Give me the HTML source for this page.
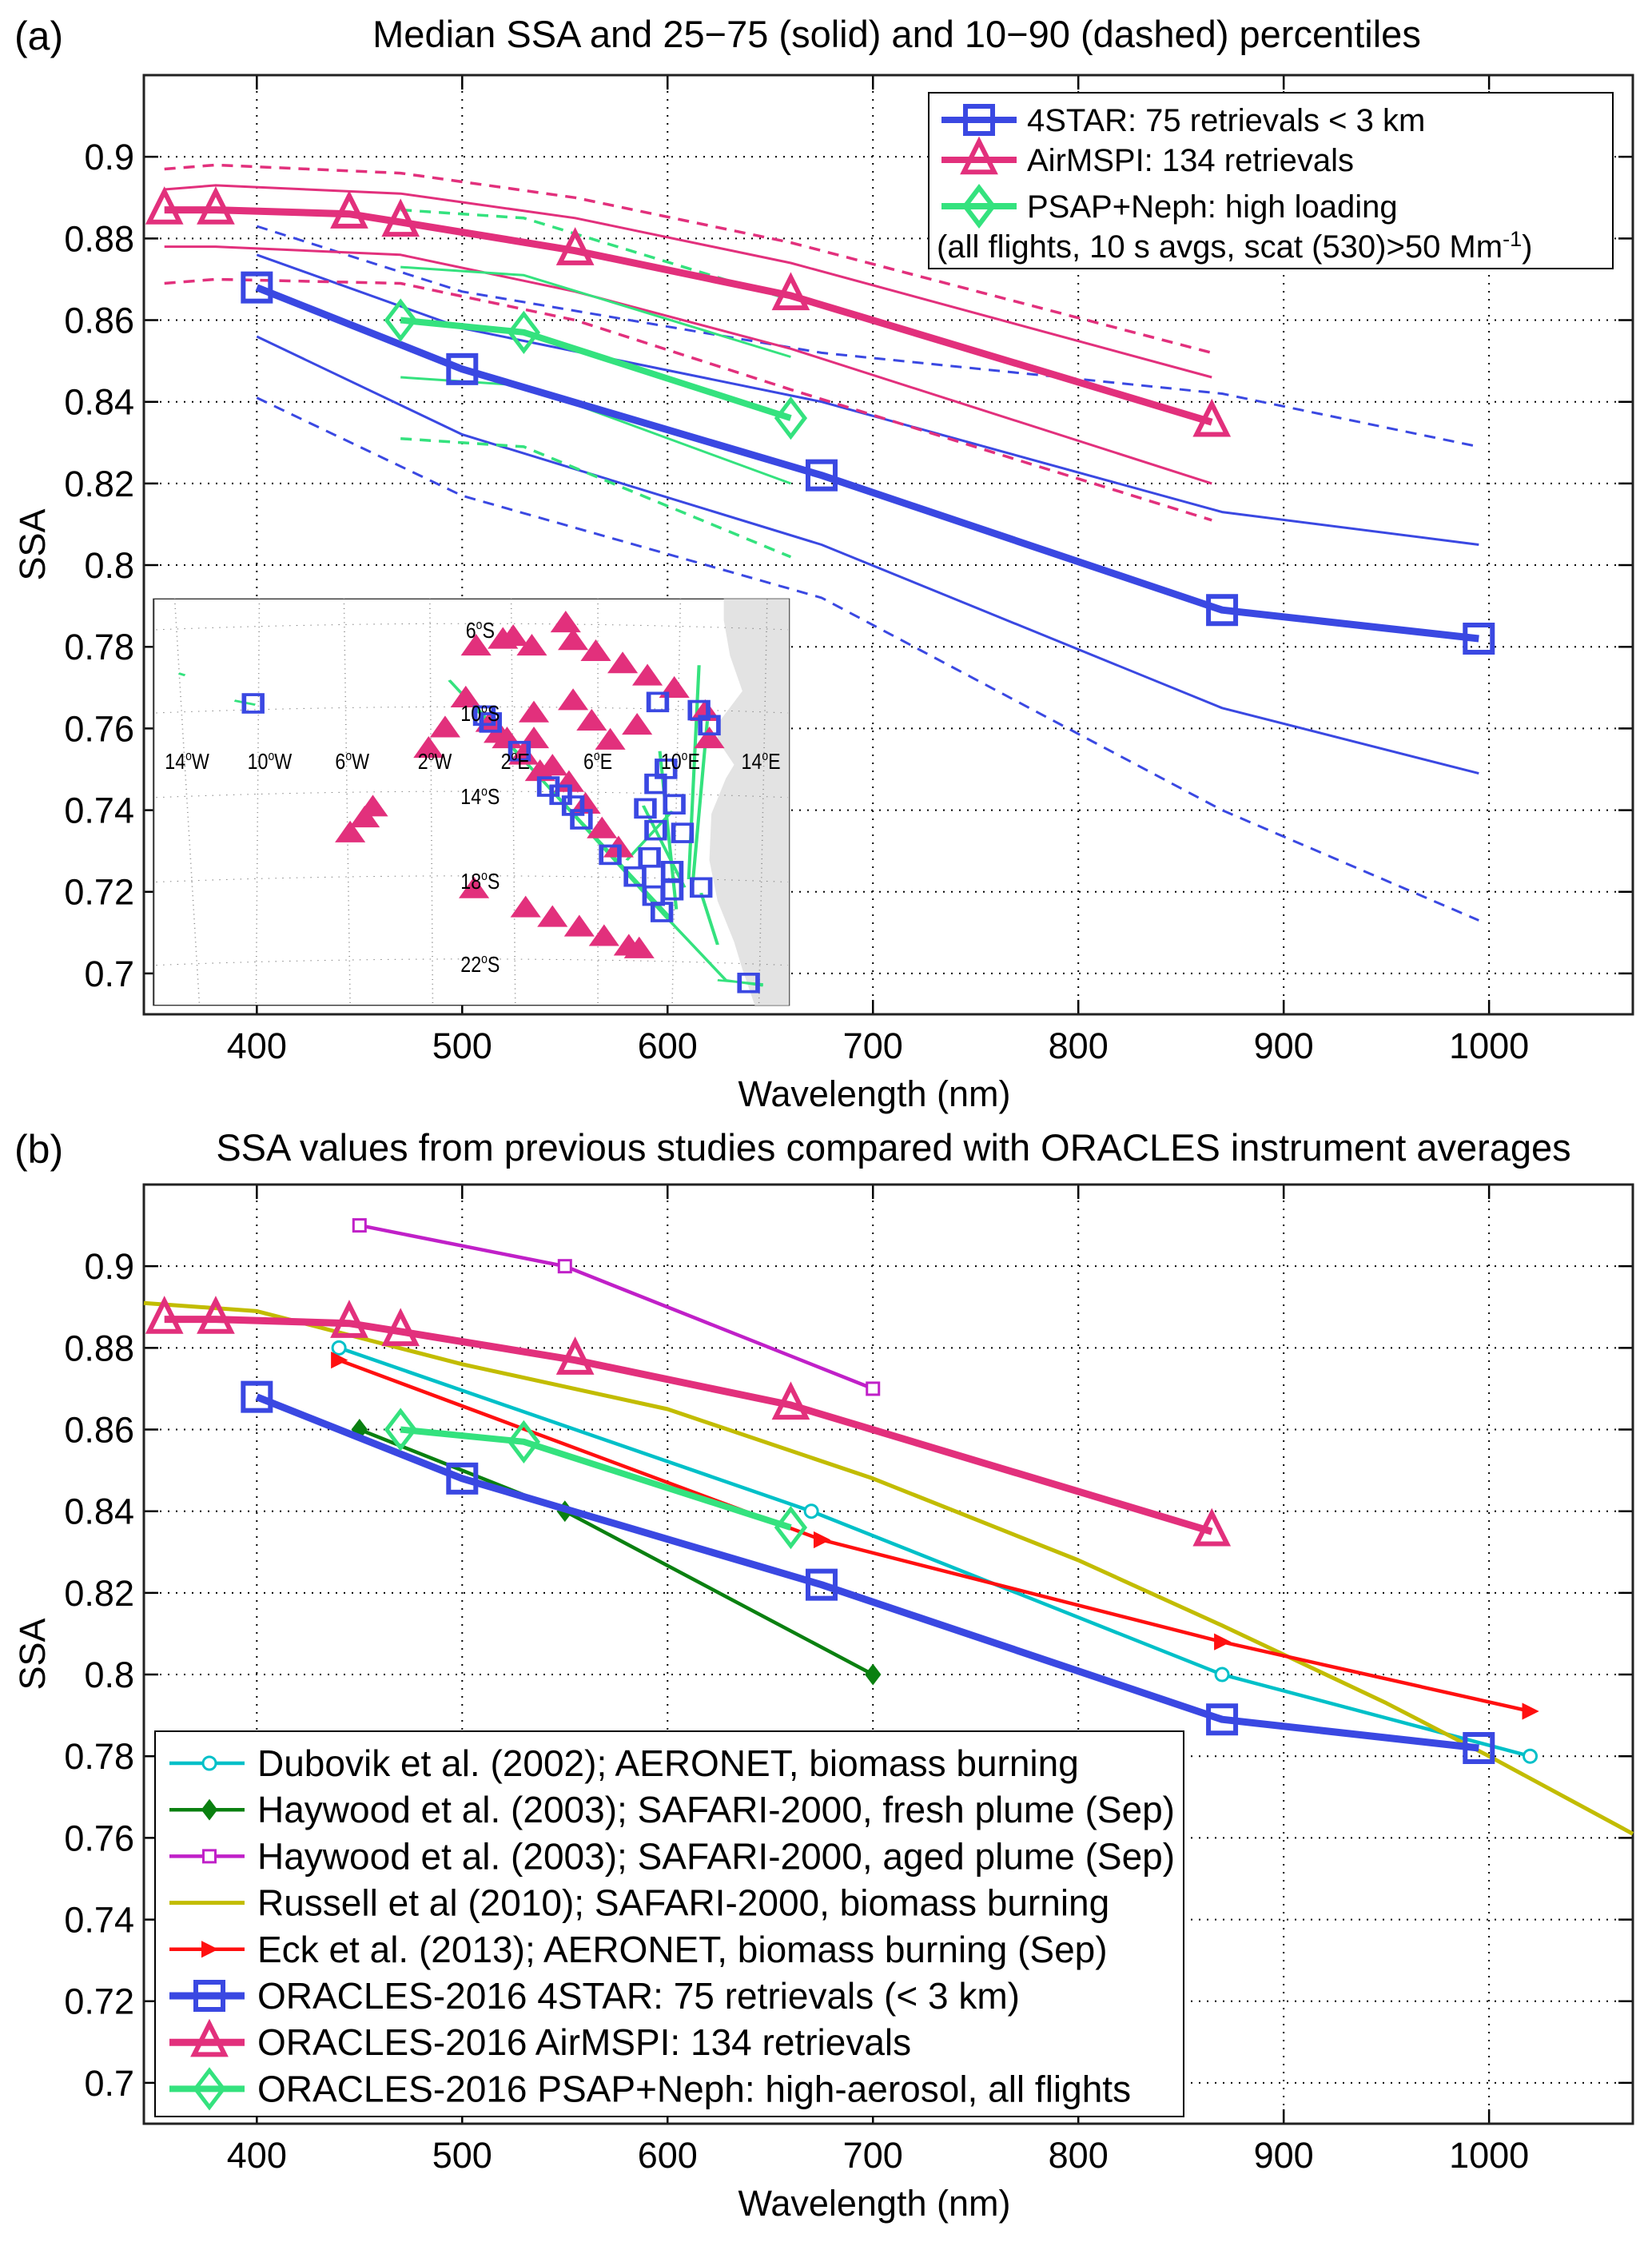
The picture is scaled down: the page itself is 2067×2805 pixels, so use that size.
<!DOCTYPE html>
<html><head><meta charset="utf-8">
<style>
html,body{margin:0;padding:0;background:#fff;}
svg{display:block;font-family:"Liberation Sans",Arial,sans-serif;}
</style></head>
<body>
<svg id="fig" width="2067" height="2805" viewBox="0 0 2067 2805" xmlns="http://www.w3.org/2000/svg">
<rect x="0" y="0" width="2067" height="2805" fill="#fff"/>
<text x="18" y="62" font-size="50">(a)</text>
<text x="1122" y="59" font-size="47" text-anchor="middle">Median SSA and 25−75 (solid) and 10−90 (dashed) percentiles</text>
<text x="18" y="1455" font-size="50">(b)</text>
<text x="1118" y="1452" font-size="47" text-anchor="middle">SSA values from previous studies compared with ORACLES instrument averages</text>
<g id="pa"></g>
<g id="inset"></g>
<g id="pb"></g>
</svg>
<script>
// ---- data ----
const xTicks=[400,500,600,700,800,900,1000];
const yTicks=[0.7,0.72,0.74,0.76,0.78,0.8,0.82,0.84,0.86,0.88,0.9];
const yTickLabels=["0.7","0.72","0.74","0.76","0.78","0.8","0.82","0.84","0.86","0.88","0.9"];
const starWl=[400,500,675,870,995];
const starMed=[0.868,0.848,0.822,0.789,0.782];
const starP75=[0.876,0.858,0.840,0.813,0.805];
const starP25=[0.856,0.832,0.805,0.765,0.749];
const starP90=[0.883,0.867,0.852,0.842,0.829];
const starP10=[0.841,0.817,0.792,0.740,0.713];
const mspiWl=[355,380,445,470,555,660,865];
const mspiMed=[0.887,0.887,0.886,0.884,0.877,0.866,0.835];
const mspiPWl=[355,380,470,555,660,865];
const mspiP75=[0.892,0.893,0.891,0.885,0.874,0.846];
const mspiP25=[0.878,0.878,0.876,0.867,0.853,0.820];
const mspiP90=[0.897,0.898,0.896,0.890,0.879,0.852];
const mspiP10=[0.869,0.870,0.869,0.860,0.843,0.811];
const psapWl=[470,530,660];
const psapMed=[0.860,0.857,0.836];
const psapP75=[0.873,0.871,0.851];
const psapP25=[0.846,0.844,0.820];
const psapP90=[0.887,0.885,0.865];
const psapP10=[0.831,0.829,0.802];
const dubWl=[440,670,870,1020];
const dubVal=[0.880,0.840,0.800,0.780];
const hayFWl=[450,550,700];
const hayFVal=[0.860,0.840,0.800];
const hayAWl=[450,550,700];
const hayAVal=[0.910,0.900,0.870];
const rusWl=[345,400,500,600,700,800,870,950,1000,1070];
const rusVal=[0.891,0.889,0.876,0.865,0.848,0.828,0.812,0.793,0.780,0.761];
const eckWl=[440,675,870,1020];
const eckVal=[0.877,0.833,0.808,0.791];

const NS="http://www.w3.org/2000/svg";
const BLUE="#3a48e2",PINK="#e2307c",GREEN="#34e27e";
function mk(tag,attrs,parent){const e=document.createElementNS(NS,tag);for(const k in attrs)e.setAttribute(k,attrs[k]);parent.appendChild(e);return e;}
const X0=180,X1=2043,XMIN=345,XMAX=1070,YMIN=0.69,YMAX=0.92;
function sx(v){return X0+(v-XMIN)/(XMAX-XMIN)*(X1-X0);}
function makeSy(top,bot){return v=>bot-(v-YMIN)/(YMAX-YMIN)*(bot-top);}

function axes(g,top,bot,sy){
  for(let i=0;i<xTicks.length;i++){const x=sx(xTicks[i]);
    const l=mk('line',{x1:x,y1:top,x2:x,y2:bot,stroke:'#000','stroke-width':2,'stroke-dasharray':'2 8'},g);
    
    mk('line',{x1:x,y1:bot,x2:x,y2:bot-18,stroke:'#000','stroke-width':2.5},g);
    mk('line',{x1:x,y1:top,x2:x,y2:top+18,stroke:'#000','stroke-width':2.5},g);
    const t=mk('text',{x:x,y:bot+55,'font-size':45,'text-anchor':'middle'},g);t.textContent=xTicks[i];
    }
  for(let i=0;i<yTicks.length;i++){const y=sy(yTicks[i]);
    const l=mk('line',{x1:X0,y1:y,x2:X1,y2:y,stroke:'#000','stroke-width':2,'stroke-dasharray':'2 8'},g);
    
    mk('line',{x1:X0,y1:y,x2:X0+18,y2:y,stroke:'#000','stroke-width':2.5},g);
    mk('line',{x1:X1,y1:y,x2:X1-18,y2:y,stroke:'#000','stroke-width':2.5},g);
    const t=mk('text',{x:168,y:y+16,'font-size':45,'text-anchor':'end'},g);t.textContent=yTickLabels[i];
    }
  const r=mk('rect',{x:X0,y:top,width:X1-X0,height:bot-top,fill:'none',stroke:'#222','stroke-width':3},g);
  
  const xl=mk('text',{x:1094,y:bot+115,'font-size':45,'text-anchor':'middle'},g);xl.textContent='Wavelength (nm)';
  
  const cy=(top+bot)/2;
  const yl=mk('text',{x:56,y:cy,'font-size':45,'text-anchor':'middle',transform:`rotate(-90 56 ${cy})`},g);yl.textContent='SSA';
  
}
function line(g,xs,ys,sy,color,w,dash,name){
  const pts=xs.map((x,i)=>sx(x).toFixed(1)+','+sy(ys[i]).toFixed(1)).join(' ');
  const p=mk('polyline',{points:pts,fill:'none',stroke:color,'stroke-width':w,'stroke-linejoin':'round'},g);
  if(dash)p.setAttribute('stroke-dasharray',dash);
  return p;
}
function marker(g,type,x,y,color,s,w,fill){
  let e;
  if(type==='sq')e=mk('rect',{x:x-s/2,y:y-s/2,width:s,height:s,fill:fill||'none',stroke:color,'stroke-width':w},g);
  else if(type==='tri')e=mk('polygon',{points:`${x},${y-s*0.6} ${x-s/2},${y+s*0.4} ${x+s/2},${y+s*0.4}`,fill:fill||'none',stroke:color,'stroke-width':w,'stroke-linejoin':'miter'},g);
  else if(type==='dia')e=mk('polygon',{points:`${x},${y-s/2} ${x+s*0.38},${y} ${x},${y+s/2} ${x-s*0.38},${y}`,fill:fill||'none',stroke:color,'stroke-width':w},g);
  else if(type==='circ')e=mk('circle',{cx:x,cy:y,r:s/2,fill:fill||'none',stroke:color,'stroke-width':w},g);
  else if(type==='rtri')e=mk('polygon',{points:`${x+s/2},${y} ${x-s/2},${y-s/2} ${x-s/2},${y+s/2}`,fill:fill||color,stroke:color,'stroke-width':w},g);
  return e;
}
function series(g,xs,ys,sy,color,w,type,s,mw,name,fill){
  line(g,xs,ys,sy,color,w,null,name+'-line');
  for(let i=0;i<xs.length;i++){const m=marker(g,type,sx(xs[i]),sy(ys[i]),color,s,mw,fill);
    }
}
function oracles(g,sy){
  series(g,starWl,starMed,sy,BLUE,9,'sq',34,6,'4star');
  series(g,mspiWl,mspiMed,sy,PINK,9,'tri',38,6,'airmspi');
  series(g,psapWl,psapMed,sy,GREEN,8,'dia',46,5,'psap');
}

// ---- panel a ----
const ga=document.getElementById('pa');
const sya=makeSy(94,1269);
axes(ga,94,1269,sya);
line(ga,starWl,starP75,sya,BLUE,3,null,'4star-p75');
line(ga,starWl,starP25,sya,BLUE,3,null,'4star-p25');
line(ga,starWl,starP90,sya,BLUE,3,'14 10','4star-p90');
line(ga,starWl,starP10,sya,BLUE,3,'14 10','4star-p10');
line(ga,mspiPWl,mspiP75,sya,PINK,3,null,'airmspi-p75');
line(ga,mspiPWl,mspiP25,sya,PINK,3,null,'airmspi-p25');
line(ga,mspiPWl,mspiP90,sya,PINK,3.5,'14 10','airmspi-p90');
line(ga,mspiPWl,mspiP10,sya,PINK,3.5,'14 10','airmspi-p10');
line(ga,psapWl,psapP75,sya,GREEN,3,null,'psap-p75');
line(ga,psapWl,psapP25,sya,GREEN,3,null,'psap-p25');
line(ga,psapWl,psapP90,sya,GREEN,3.5,'14 10','psap-p90');
line(ga,psapWl,psapP10,sya,GREEN,3.5,'14 10','psap-p10');
oracles(ga,sya);
// legend a
{const lg=mk('g',{},ga);
 mk('rect',{x:1162,y:116,width:856,height:220,fill:'#fff',stroke:'#000','stroke-width':2},lg);
 const items=[[BLUE,'sq',34,'4STAR: 75 retrievals < 3 km',150],[PINK,'tri',38,'AirMSPI: 134 retrievals',200],[GREEN,'dia',46,'PSAP+Neph: high loading',258]];
 items.forEach(it=>{const e=mk('g',{},lg);
  mk('line',{x1:1178,y1:it[4],x2:1272,y2:it[4],stroke:it[0],'stroke-width':8},e);marker(e,it[1],1225,it[4],it[0],it[2],6);
  const t=mk('text',{x:1285,y:it[4]+14,'font-size':40},e);t.textContent=it[3];});
 const t=mk('text',{x:1172,y:322,'font-size':40},lg);
 t.innerHTML='(all flights, 10 s avgs, scat (530)&gt;50 Mm<tspan dy="-14" font-size="27">-1</tspan><tspan dy="14">)</tspan>';
}

// ---- inset map (local coords 1568x1568 stretched to 810x535) ----
const insetTri=[[795,220],[860,195],[885,185],[930,220],[1012,135],[1030,200],[1085,240],[1150,285],[1210,330],[1275,375],[1350,460],[1360,560],[1030,420],[935,465],[1075,495],[1185,510],[1120,565],[770,410],[720,520],[680,595],[850,540],[935,560],[980,660],[1020,720],[1060,800],[1100,890],[1140,960],[545,810],[525,850],[490,905],[790,1110],[915,1180],[980,1215],[1045,1250],[1105,1285],[1165,1320],[1190,1330],[830,500],[870,560],[910,620],[950,680]];
const insetSq=[[255,425],[815,470],[830,495],[900,600],[1235,420],[1335,450],[1360,505],[1255,665],[1230,720],[970,730],[1000,760],[1030,800],[1050,850],[1205,810],[1275,795],[1295,900],[1230,890],[1120,980],[1215,990],[1180,1060],[1270,1040],[1225,1130],[1270,1110],[1340,1100],[1245,1190],[1455,1450]];
const insetTracks=[[[730,340],[1265,1210]],[[760,380],[1250,1200],[1400,1440],[1490,1460]],[[1335,285],[1310,1070]],[[1355,490],[1320,1080]],[[1240,600],[1280,1180]],[[1200,800],[1300,1100]],[[1270,820],[1160,1000]],[[1380,1440],[1490,1455]],[[1340,1120],[1380,1310]],[[75,315],[90,322]],[[210,415],[260,430]]];
const lonLabels=[[95,'14','W'],[295,'10','W'],[495,'6','W'],[695,'2','W'],[890,'2','E'],[1090,'6','E'],[1290,'10','E'],[1485,'14','E']];
const latLabels=[[185,'6'],[490,'10'],[795,'14'],[1105,'18'],[1410,'22']];
{const sv=mk('svg',{x:185,y:735,width:810,height:535,viewBox:'0 0 1568 1568',preserveAspectRatio:'none'},document.getElementById('inset'));
 
 mk('rect',{x:14,y:42,width:1539,height:1490,fill:'#fff',stroke:'#333','stroke-width':4},sv);
 const land=mk('polygon',{points:'1395,42 1553,42 1553,1532 1470,1532 1440,1400 1420,1300 1380,1150 1360,1000 1365,830 1400,700 1420,650 1380,560 1380,500 1440,380 1410,250 1395,120',fill:'#e3e3e3'},sv);
 
 [[155,125],[460,430],[770,740],[1080,1050],[1385,1355]].forEach(l=>mk('path',{d:`M20,${l[0]} Q780,${l[1]-15} 1550,${l[0]}`,fill:'none',stroke:'#888','stroke-width':3,'stroke-dasharray':'3 14'},sv));
 [[65,125],[270,262],[475,490],[683,690],[880,890],[1090,1090],[1290,1270],[1500,1480]].forEach(l=>mk('line',{x1:l[0],y1:42,x2:l[1],y2:1532,stroke:'#888','stroke-width':3,'stroke-dasharray':'3 14'},sv));
 insetTracks.forEach(t=>mk('polyline',{points:t.map(p=>p.join(',')).join(' '),fill:'none',stroke:GREEN,'stroke-width':8},sv));
 insetTri.forEach(p=>{const e=mk('polygon',{points:`${p[0]},${p[1]-44} ${p[0]-33},${p[1]+27} ${p[0]+33},${p[1]+27}`,fill:PINK,stroke:PINK,'stroke-width':5},sv);
   });
 insetSq.forEach(p=>{const e=mk('rect',{x:p[0]-22,y:p[1]-32,width:44,height:64,fill:'none',stroke:BLUE,'stroke-width':11},sv);
   });
 lonLabels.forEach(l=>{const t=mk('text',{x:l[0],y:665,'font-size':50,'text-anchor':'middle',transform:`translate(${l[0]} 665) scale(0.9 1.6) translate(${-l[0]} -665)`},sv);
   t.innerHTML=`${l[1]}<tspan dy="-20" font-size="30">o</tspan><tspan dy="20">${l[2]}</tspan>`;});
 latLabels.forEach(l=>{const t=mk('text',{x:805,y:l[0],'font-size':50,'text-anchor':'middle',transform:`translate(805 ${l[0]}) scale(0.9 1.6) translate(-805 ${-l[0]})`},sv);
   t.innerHTML=`${l[1]}<tspan dy="-20" font-size="30">o</tspan><tspan dy="20">S</tspan>`;});
}

// ---- panel b ----
const gb=document.getElementById('pb');
const syb=makeSy(1482,2657);
axes(gb,1482,2657,syb);
series(gb,dubWl,dubVal,syb,'#00c0c8',4.5,'circ',16,3,'dubovik','#fff');
series(gb,hayFWl,hayFVal,syb,'#0a8010',4.5,'dia',22,3,'haywood-fresh','#0a8010');
series(gb,hayAWl,hayAVal,syb,'#c020c8',4.5,'sq',15,3,'haywood-aged','#fff');
line(gb,rusWl,rusVal,syb,'#c2bc00',5,null,'russell-line');
series(gb,eckWl,eckVal,syb,'#ff1010',4.5,'rtri',18,2,'eck');
oracles(gb,syb);
{const lg=mk('g',{},gb);
 mk('rect',{x:194,y:2166,width:1287,height:482,fill:'#fff',stroke:'#000','stroke-width':2},lg);
 const it=[['#00c0c8','circ',16,3,'#fff',4.5,'Dubovik et al. (2002); AERONET, biomass burning'],
  ['#0a8010','dia',22,3,'#0a8010',4.5,'Haywood et al. (2003); SAFARI-2000, fresh plume (Sep)'],
  ['#c020c8','sq',15,3,'#fff',4.5,'Haywood et al. (2003); SAFARI-2000, aged plume (Sep)'],
  ['#c2bc00',null,0,0,null,5,'Russell et al (2010); SAFARI-2000, biomass burning'],
  ['#ff1010','rtri',18,2,'#ff1010',4.5,'Eck et al. (2013); AERONET, biomass burning (Sep)'],
  [BLUE,'sq',34,6,null,9,'ORACLES-2016 4STAR: 75 retrievals (< 3 km)'],
  [PINK,'tri',38,6,null,9,'ORACLES-2016 AirMSPI: 134 retrievals'],
  [GREEN,'dia',46,5,null,8,'ORACLES-2016 PSAP+Neph: high-aerosol, all flights']];
 it.forEach((d,i)=>{const y=2206+i*58.2;const e=mk('g',{},lg);
  mk('line',{x1:212,y1:y,x2:306,y2:y,stroke:d[0],'stroke-width':d[5]},e);
  if(d[1])marker(e,d[1],262,y,d[0],d[2],d[3],d[4]);
  const t=mk('text',{x:322,y:y+16,'font-size':46,textLength:0},e);t.removeAttribute('textLength');t.textContent=d[6];});
}
</script>
</body></html>
